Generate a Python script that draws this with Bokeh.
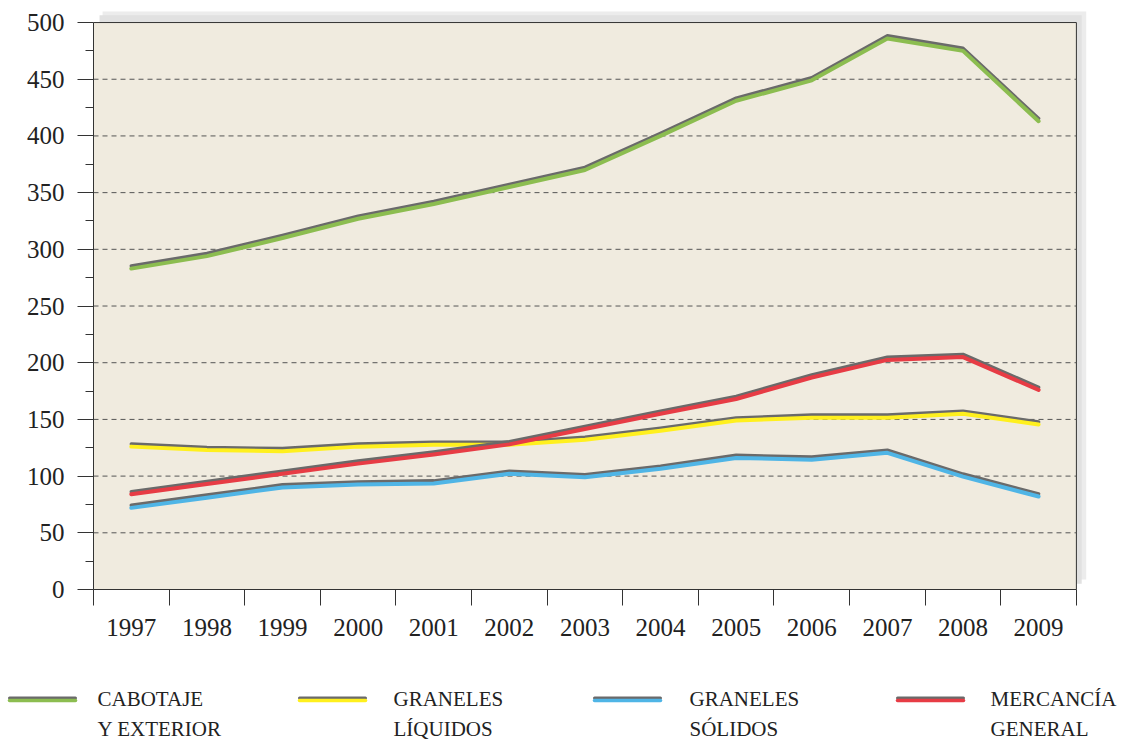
from bokeh.plotting import figure
from bokeh.models import FixedTicker, Range1d, ColumnDataSource
from bokeh.transform import dodge
from bokeh.core.properties import value
from bokeh.embed import file_html
from bokeh.resources import INLINE

YEARS = ["1997", "1998", "1999", "2000", "2001", "2002", "2003",
         "2004", "2005", "2006", "2007", "2008", "2009"]
CABOTAJE = [283, 294, 310, 327, 340, 355, 370, 400, 431, 449, 486, 475, 413]
LIQUIDOS = [126, 123, 122, 126, 127.6, 127.6, 132, 140, 149, 151.5, 151.5, 155, 145.5]
SOLIDOS = [72, 81, 90, 92.5, 93.5, 102, 99, 106.5, 116, 114.5, 120.5, 99.5, 82]
MERCANCIA = [84, 93, 102, 111, 119, 128, 141.5, 155, 168, 187, 202.5, 205, 176]
Y_TICKS = list(range(0, 501, 50))
Y_MINOR = list(range(25, 500, 50))

SERIES = [
    ("CABOTAJE", "Y EXTERIOR", CABOTAJE, "#8cbd50"),
    ("GRANELES", "LÍQUIDOS", LIQUIDOS, "#fff01e"),
    ("GRANELES", "SÓLIDOS", SOLIDOS, "#4fb5e6"),
    ("MERCANCÍA", "GENERAL", MERCANCIA, "#e73c45"),
]
GRAY = "#6a6a6a"
FONT = "Liberation Serif"

n = len(YEARS)
xs = [i + 0.5 for i in range(n)]

p = figure(width=1098, height=650, output_backend="svg", toolbar_location=None,
           x_range=Range1d(0, 13.16), y_range=Range1d(0, 511.5),
           min_border_left=93, min_border_right=10, min_border_top=9,
           min_border_bottom=61, background_fill_color="white",
           border_fill_color="white", outline_line_color=None)
p.xgrid.visible = False
p.ygrid.visible = False

# shadow and panel background
p.quad(left=0.12, right=13.13, bottom=8.8, top=509.7, fill_color="#ececec", line_color=None)
p.quad(left=0.08, right=13.07, bottom=5, top=506.5, fill_color="#e1e1e1", line_color=None)
p.quad(left=0, right=n, bottom=Y_TICKS[0], top=Y_TICKS[-1], fill_color="#f0ebdf",
       line_color="#333333", line_width=1)

# dashed grid
gy = Y_TICKS[1:-1]
p.segment(x0=[0] * len(gy), x1=[n] * len(gy), y0=gy, y1=gy,
          line_color="#555555", line_width=1, line_dash="5 4")

for l1, l2, vals, col in SERIES:
    src = ColumnDataSource(dict(x=xs, y=vals))
    p.line(x="x", y=dodge("y", 2.3, range=p.y_range), source=src,
           line_color=GRAY, line_width=3.5, line_join="round", line_cap="round")
    p.line(x="x", y="y", source=src, line_color=col, line_width=4,
           line_join="round", line_cap="round")

ya = p.yaxis[0]
ya.ticker = FixedTicker(ticks=Y_TICKS, minor_ticks=Y_MINOR)
ya.bounds = (0, 500)
ya.axis_line_color = "#333333"
ya.major_tick_line_color = "#333333"
ya.minor_tick_line_color = "#333333"
ya.major_tick_out = 16
ya.major_tick_in = 0
ya.minor_tick_out = 8
ya.minor_tick_in = 0
ya.major_label_standoff = 13
ya.major_label_text_font = FONT
ya.major_label_text_font_size = "25px"
ya.major_label_text_color = "#222222"

xa = p.xaxis[0]
xa.ticker = FixedTicker(ticks=xs, minor_ticks=list(range(n + 1)))
xa.major_label_overrides = {x: y for x, y in zip(xs, YEARS)}
xa.bounds = (0, n)
xa.axis_line_color = "#333333"
xa.minor_tick_line_color = "#333333"
xa.major_tick_out = 0
xa.major_tick_in = 0
xa.minor_tick_out = 16
xa.minor_tick_in = 0
xa.major_label_standoff = 13
xa.major_label_text_font = FONT
xa.major_label_text_font_size = "25px"
xa.major_label_text_color = "#222222"

# legend panel (coordinates: page pixels, origin at legend panel top-left)
LEG_SAMPLE_X = [9, 299, 594, 897]
LEG_TEXT_X = [97, 393, 689, 990]
lg = figure(width=1125, height=90, output_backend="svg", toolbar_location=None,
            x_range=Range1d(0, 1125), y_range=Range1d(90, 0),
            x_axis_location=None, y_axis_location=None,
            min_border_left=0, min_border_right=0, min_border_top=0, min_border_bottom=0,
            outline_line_color=None)
lg.grid.visible = False
for (l1, l2, vals, col), sx, tx in zip(SERIES, LEG_SAMPLE_X, LEG_TEXT_X):
    lg.segment(x0=[sx], x1=[sx + 66], y0=[47.5], y1=[47.5], line_color=GRAY, line_width=3, line_cap="round")
    lg.segment(x0=[sx], x1=[sx + 66], y0=[50], y1=[50], line_color=col, line_width=3.5, line_cap="round")
    lg.text(x=[tx, tx], y=[48, 78], text=[l1, l2], text_font=value(FONT),
            text_font_size="21px", text_color="#222222", text_baseline="alphabetic")

open("out.html", "w").write(file_html([p, lg], INLINE))
